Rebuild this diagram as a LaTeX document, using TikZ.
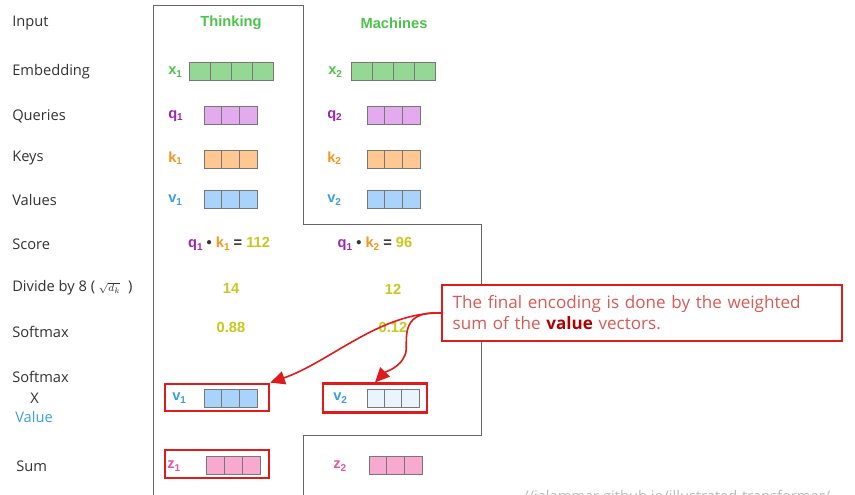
\documentclass[tikz,border=0pt]{standalone}
\usepackage{fontspec}
\setmainfont{Open Sans}
\newfontfamily\ar{Liberation Sans}
\usetikzlibrary{arrows.meta}
\definecolor{tgreen}{HTML}{4DC24D}
\definecolor{fgreen}{HTML}{95D795}
\definecolor{tpurple}{HTML}{9C27B0}
\definecolor{fpurple}{HTML}{E3AAEE}
\definecolor{torange}{HTML}{F5961E}
\definecolor{forange}{HTML}{FFC893}
\definecolor{tblue}{HTML}{3D9FE0}
\definecolor{fblue}{HTML}{A9D3FA}
\definecolor{flblue}{HTML}{EAF4FD}
\definecolor{tyellow}{HTML}{C8C81E}
\definecolor{tpink}{HTML}{E8559E}
\definecolor{fpink}{HTML}{F8A9D0}
\definecolor{cellgray}{HTML}{777777}
\definecolor{framegray}{HTML}{666666}
\definecolor{labgray}{HTML}{333333}
\definecolor{calred}{HTML}{D95A55}
\definecolor{darkred}{HTML}{B00000}
\definecolor{boxred}{HTML}{E01B1B}
\newcommand\sbs[1]{\raisebox{-0.3ex}{\fontsize{7.5}{8}\selectfont #1}}
\newcommand\cellrow[6]{%
  \coordinate (#1) at (#2,#3);
  \foreach \i in {1,...,#4}{\draw[cellline,fill=#6] ({#2+(\i-1)*#5},{#3-9}) rectangle ({#2+\i*#5},{#3+9});}}
\tikzset{
  lab/.style={font=\fontsize{11}{13}\selectfont, anchor=west, text=labgray, inner sep=0pt},
  head/.style={font=\ar\bfseries\fontsize{11}{13}\selectfont, text=tgreen},
  vl/.style={font=\ar\bfseries\fontsize{11}{13}\selectfont, anchor=west, inner sep=0pt},
  num/.style={font=\ar\bfseries\fontsize{11}{13}\selectfont, text=tyellow},
  cellline/.style={draw=cellgray, line width=0.5pt},
  frame/.style={draw=framegray, line width=0.7pt},
  redbox/.style={draw=boxred, line width=1.8pt, minimum width=78pt, inner sep=0pt},
  calbox/.style={draw=boxred, line width=1.3pt, fill=white},
  redarrow/.style={draw=boxred, line width=1.2pt, -{Triangle[length=11pt,width=10pt]}},
}
\begin{document}
\begin{tikzpicture}[x=0.75pt,y=-0.75pt]
\useasboundingbox (0,0) rectangle (855,494);
\fill[white] (0,0) rectangle (855,494);
% frame
\draw[frame] (153,500) -- (153,5) -- (303,5) -- (303,224) -- (481,224) -- (481,435) -- (303,435) -- (303,500);
% left labels
\node[lab] (lin) at (12,23) {Input};
\node[lab] (lemb) at (12,72) {Embedding};
\node[lab] (lq) at (12,116) {Queries};
\node[lab] (lk) at (12,158) {Keys};
\node[lab] (lv) at (12,200) {Values};
\node[lab] (lsc) at (12,244) {Score};
\node[lab] (ldiv) at (12,288) {Divide by 8 ( {\fontsize{8}{9}\selectfont$\sqrt{d_k}$}\ \ )};
\node[lab] (lsm) at (12,332) {Softmax};
\node[lab] (lsm2) at (12,377) {Softmax};
\node[lab] (lx) at (30,398) {X};
\node[lab, text=tblue] (lval) at (15,417) {Value};
\node[lab] (lsum) at (16,466) {Sum};
% headers
\node[head] (h1) at (231,23) {Thinking};
\node[head] (h2) at (394,23) {Machines};
% vectors column 1
\node[vl, text=tgreen] (x1l) at (168,72) {x\sbs{1}};
\cellrow{x1}{189}{71}{4}{21}{fgreen}
\node[vl, text=tpurple] (q1l) at (168,116) {q\sbs{1}};
\cellrow{q1}{204}{115}{3}{17.7}{fpurple}
\node[vl, text=torange] (k1l) at (168,158) {k\sbs{1}};
\cellrow{k1}{204}{159}{3}{17.7}{forange}
\node[vl, text=tblue] (v1l) at (168,200) {v\sbs{1}};
\cellrow{v1}{204}{199}{3}{17.7}{fblue}
% vectors column 2
\node[vl, text=tgreen] (x2l) at (328,72) {x\sbs{2}};
\cellrow{x2}{351}{71}{4}{21}{fgreen}
\node[vl, text=tpurple] (q2l) at (327,116) {q\sbs{2}};
\cellrow{q2}{367}{115}{3}{17.7}{fpurple}
\node[vl, text=torange] (k2l) at (327,158) {k\sbs{2}};
\cellrow{k2}{367}{159}{3}{17.7}{forange}
\node[vl, text=tblue] (v2l) at (327,200) {v\sbs{2}};
\cellrow{v2}{367}{199}{3}{17.7}{fblue}
% scores
\node[num] (s1) at (229,244) {\textcolor{tpurple}{q\sbs{1}} \textcolor{labgray}{•} \textcolor{torange}{k\sbs{1}} \textcolor{labgray}{=} 112};
\node[num] (s2) at (375,244) {\textcolor{tpurple}{q\sbs{1}} \textcolor{labgray}{•} \textcolor{torange}{k\sbs{2}} \textcolor{labgray}{=} 96};
\node[num] (d1) at (231,288) {14};
\node[num] (d2) at (393,289) {12};
\node[num] (m1) at (231,327) {0.88};
\node[num] (m2) at (393,327) {0.12};
% softmax x value
\node[redbox, minimum height=20.5pt] (v1r) at (217,397.5) {};
\node[vl, text=tblue] (v1w) at (172,398) {v\sbs{1}};
\cellrow{v1b}{204}{398}{3}{17.7}{fblue}
\node[redbox, minimum height=21.5pt] (v2r) at (375,398) {};
\node[vl, text=tblue] (v2w) at (333,398) {v\sbs{2}};
\cellrow{v2b}{367}{398}{3}{17.4}{flblue}
% sum
\node[redbox, minimum height=21pt] (z1r) at (217,464) {};
\node[vl, text=tpink] (z1l) at (167,466) {z\sbs{1}};
\cellrow{z1}{206}{465}{3}{18}{fpink}
\node[vl, text=tpink] (z2l) at (333,466) {z\sbs{2}};
\cellrow{z2}{369}{465}{3}{17.7}{fpink}
% callout
\node[calbox, minimum width=300pt, minimum height=42pt, text width=284pt, inner xsep=6pt, align=left,
  font=\fontsize{12.8}{15.75}\selectfont, text=calred] (call) at (642,313)
  {The final encoding is done by the weighted\\ sum of the \textbf{\textcolor{darkred}{value}} vectors.};
\draw[redarrow] (call.west) .. controls (380,312) and (330,362) .. (v1r.north east);
\draw[redarrow] (call.west) .. controls (395,310) and (410,345) .. (405,355) .. controls (400,368) and (385,372) .. (v2r.north);
% source (cut off at the bottom edge, as in the reference)
\node[anchor=north west, inner sep=0pt, text=gray!55, font=\fontsize{11}{13}\selectfont] (src) at (523,490) {//jalammar.github.io/illustrated-transformer/};
\end{tikzpicture}
\end{document}
